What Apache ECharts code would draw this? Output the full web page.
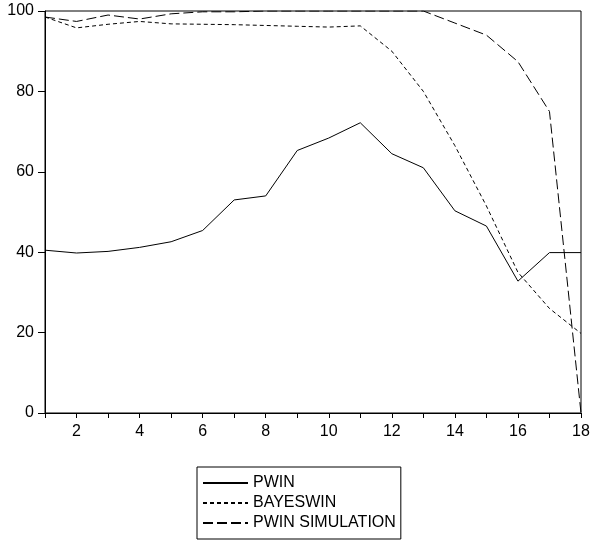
<!DOCTYPE html>
<html>
<head>
<meta charset="utf-8">
<script src="https://cdn.jsdelivr.net/npm/echarts@6/dist/echarts.min.js"></script>
<style>
  html, body { margin: 0; padding: 0; background: #fff; }
</style>
</head>
<body>
<div id="chart" style="width: 593px;height:542px;"></div>
<script>
var periods = [1, 2, 3, 4, 5, 6, 7, 8, 9, 10, 11, 12, 13, 14, 15, 16, 17, 18];
var pwin = [40.5, 39.8, 40.2, 41.2, 42.6, 45.4, 53, 54, 65.3, 68.4, 72.2, 64.5, 61, 50.3, 46.5, 32.8, 39.9, 39.9];
var bayeswin = [98.5, 95.8, 96.7, 97.4, 96.8, 96.7, 96.6, 96.4, 96.2, 96, 96.3, 90, 80, 66.5, 51.5, 35, 26, 19.8];
var pwinSim = [98.5, 97.4, 99, 98, 99.3, 99.8, 99.8, 100, 100, 100, 100, 100, 100, 97, 94, 87.4, 75, 0];
var yTicks = [0, 20, 40, 60, 80, 100];

function pairs(vals) {
    return periods.map(function (p, i) { return [p, vals[i]]; });
}

var chart = echarts.init(document.getElementById('chart'));
var font = 'Liberation Sans, Arial, sans-serif';
var option = {
    animation: false,
    grid: {
        left: 45,
        right: 12,
        top: 11,
        bottom: 129,
        show: true,
        borderColor: '#000',
        borderWidth: 1
    },
    legend: {
        orient: 'vertical',
        left: 197,
        top: 467,
        height: 62,
        padding: [8, 5, 8, 5],
        itemGap: 4,
        itemWidth: 45,
        itemHeight: 14,
        borderColor: '#000',
        borderWidth: 1,
        itemStyle: { opacity: 0 },
        textStyle: { fontFamily: font, fontSize: 16, lineHeight: 16, color: '#000' },
        data: ['PWIN', 'BAYESWIN', 'PWIN SIMULATION']
    },
    xAxis: {
        type: 'value',
        min: 1,
        max: 18,
        interval: 1,
        axisLine: { lineStyle: { color: '#000', width: 1 } },
        axisTick: { show: true, length: 5, lineStyle: { color: '#000' } },
        axisLabel: {
            margin: 11,
            fontFamily: font,
            fontSize: 16,
            color: '#000',
            formatter: function (v) { return v % 2 === 0 ? String(v) : ''; }
        },
        splitLine: { show: false }
    },
    yAxis: {
        type: 'value',
        min: yTicks[0],
        max: yTicks[yTicks.length - 1],
        interval: 20,
        axisLine: { show: true, lineStyle: { color: '#000', width: 1 } },
        axisTick: { show: true, length: 7, lineStyle: { color: '#000' } },
        axisLabel: { margin: 11, fontFamily: font, fontSize: 16, color: '#000' },
        splitLine: { show: false }
    },
    series: [
        {
            name: 'PWIN',
            type: 'line',
            data: pairs(pwin),
            symbol: 'none',
            lineStyle: { color: '#000', width: 1 },
            itemStyle: { color: '#000' }
        },
        {
            name: 'BAYESWIN',
            type: 'line',
            data: pairs(bayeswin),
            symbol: 'none',
            lineStyle: { color: '#000', width: 1, type: [4, 3] },
            itemStyle: { color: '#000' }
        },
        {
            name: 'PWIN SIMULATION',
            type: 'line',
            data: pairs(pwinSim),
            symbol: 'none',
            lineStyle: { color: '#000', width: 1, type: [10, 4] },
            itemStyle: { color: '#000' }
        }
    ]
};
chart.setOption(option);
</script>
</body>
</html>
